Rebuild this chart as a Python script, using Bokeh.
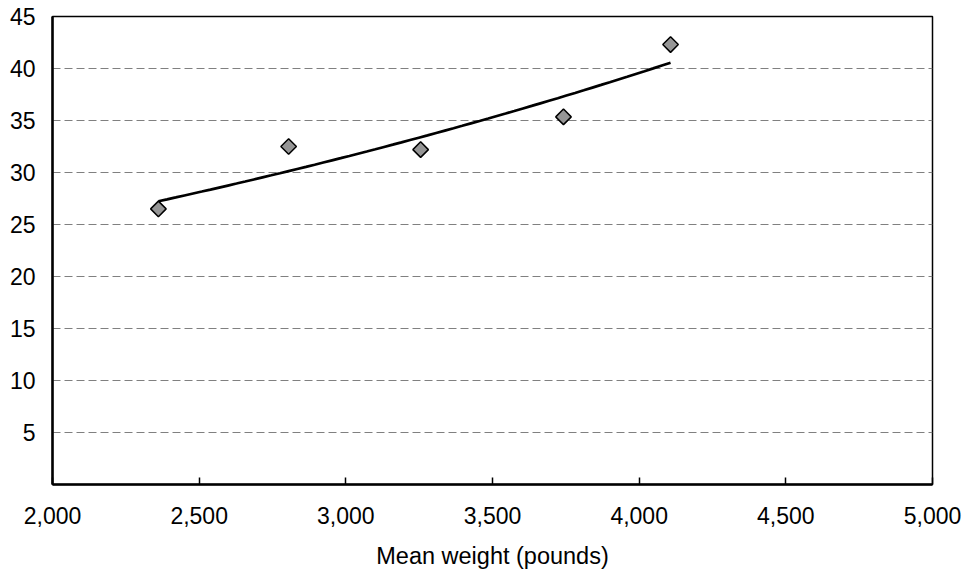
import numpy as np
from bokeh.plotting import figure
from bokeh.models import FixedTicker, NumeralTickFormatter, Range1d
from bokeh.embed import file_html
from bokeh.resources import INLINE

# Data
mean_weight = [2361, 2805, 3255, 3742, 4107]
mpg_value = [26.5, 32.5, 32.2, 35.35, 42.3]
x_ticks = [2000, 2500, 3000, 3500, 4000, 4500, 5000]
y_ticks = [5, 10, 15, 20, 25, 30, 35, 40, 45]

# Exponential trendline fitted to the data (as in a spreadsheet trendline)
b, ln_a = np.polyfit(mean_weight, np.log(mpg_value), 1)
trend_x = np.linspace(min(mean_weight), max(mean_weight), 60)
trend_y = np.exp(ln_a + b * trend_x)

FONT = "Liberation Sans"

p = figure(width=964, height=573, output_backend="svg", toolbar_location=None,
           x_range=Range1d(2000, 5000), y_range=Range1d(0, 45),
           min_border_left=52, min_border_top=16, min_border_right=32,
           min_border_bottom=89)

p.background_fill_color = "white"
p.border_fill_color = "white"
p.outline_line_color = "black"
p.outline_line_width = 1.5

p.xgrid.visible = False
p.ygrid.ticker = FixedTicker(ticks=y_ticks[:-1])
p.ygrid.grid_line_color = "#808080"
p.ygrid.grid_line_dash = "8 4"
p.ygrid.grid_line_width = 1

p.xaxis.ticker = FixedTicker(ticks=x_ticks)
p.xaxis.formatter = NumeralTickFormatter(format="0,0")
p.yaxis.ticker = FixedTicker(ticks=y_ticks)
p.xaxis.axis_label = "Mean weight (pounds)"

for ax in (p.xaxis, p.yaxis):
    ax.axis_line_color = "black"
    ax.axis_line_width = 2.5
    ax.major_tick_line_color = "black"
    ax.major_tick_line_width = 1.5
    ax.minor_tick_line_color = None
    ax.major_label_text_font = FONT
    ax.major_label_text_font_size = "23px"
    ax.major_label_text_color = "black"
    ax.axis_label_text_font = FONT
    ax.axis_label_text_font_size = "23.5px"
    ax.axis_label_text_font_style = "normal"
    ax.axis_label_text_color = "black"

p.xaxis.major_tick_in = 7
p.xaxis.major_tick_out = 0
p.xaxis.major_label_standoff = 22
p.xaxis.axis_label_standoff = 16
p.yaxis.major_tick_in = 0
p.yaxis.major_tick_out = 0
p.yaxis.major_label_standoff = 17

p.line(trend_x, trend_y, line_color="black", line_width=2.7)
p.scatter(mean_weight, mpg_value, marker="square", angle=np.pi / 4, size=11,
          fill_color="#969696", line_color="black", line_width=1.5)

open("out.html", "w").write(file_html(p, INLINE))
